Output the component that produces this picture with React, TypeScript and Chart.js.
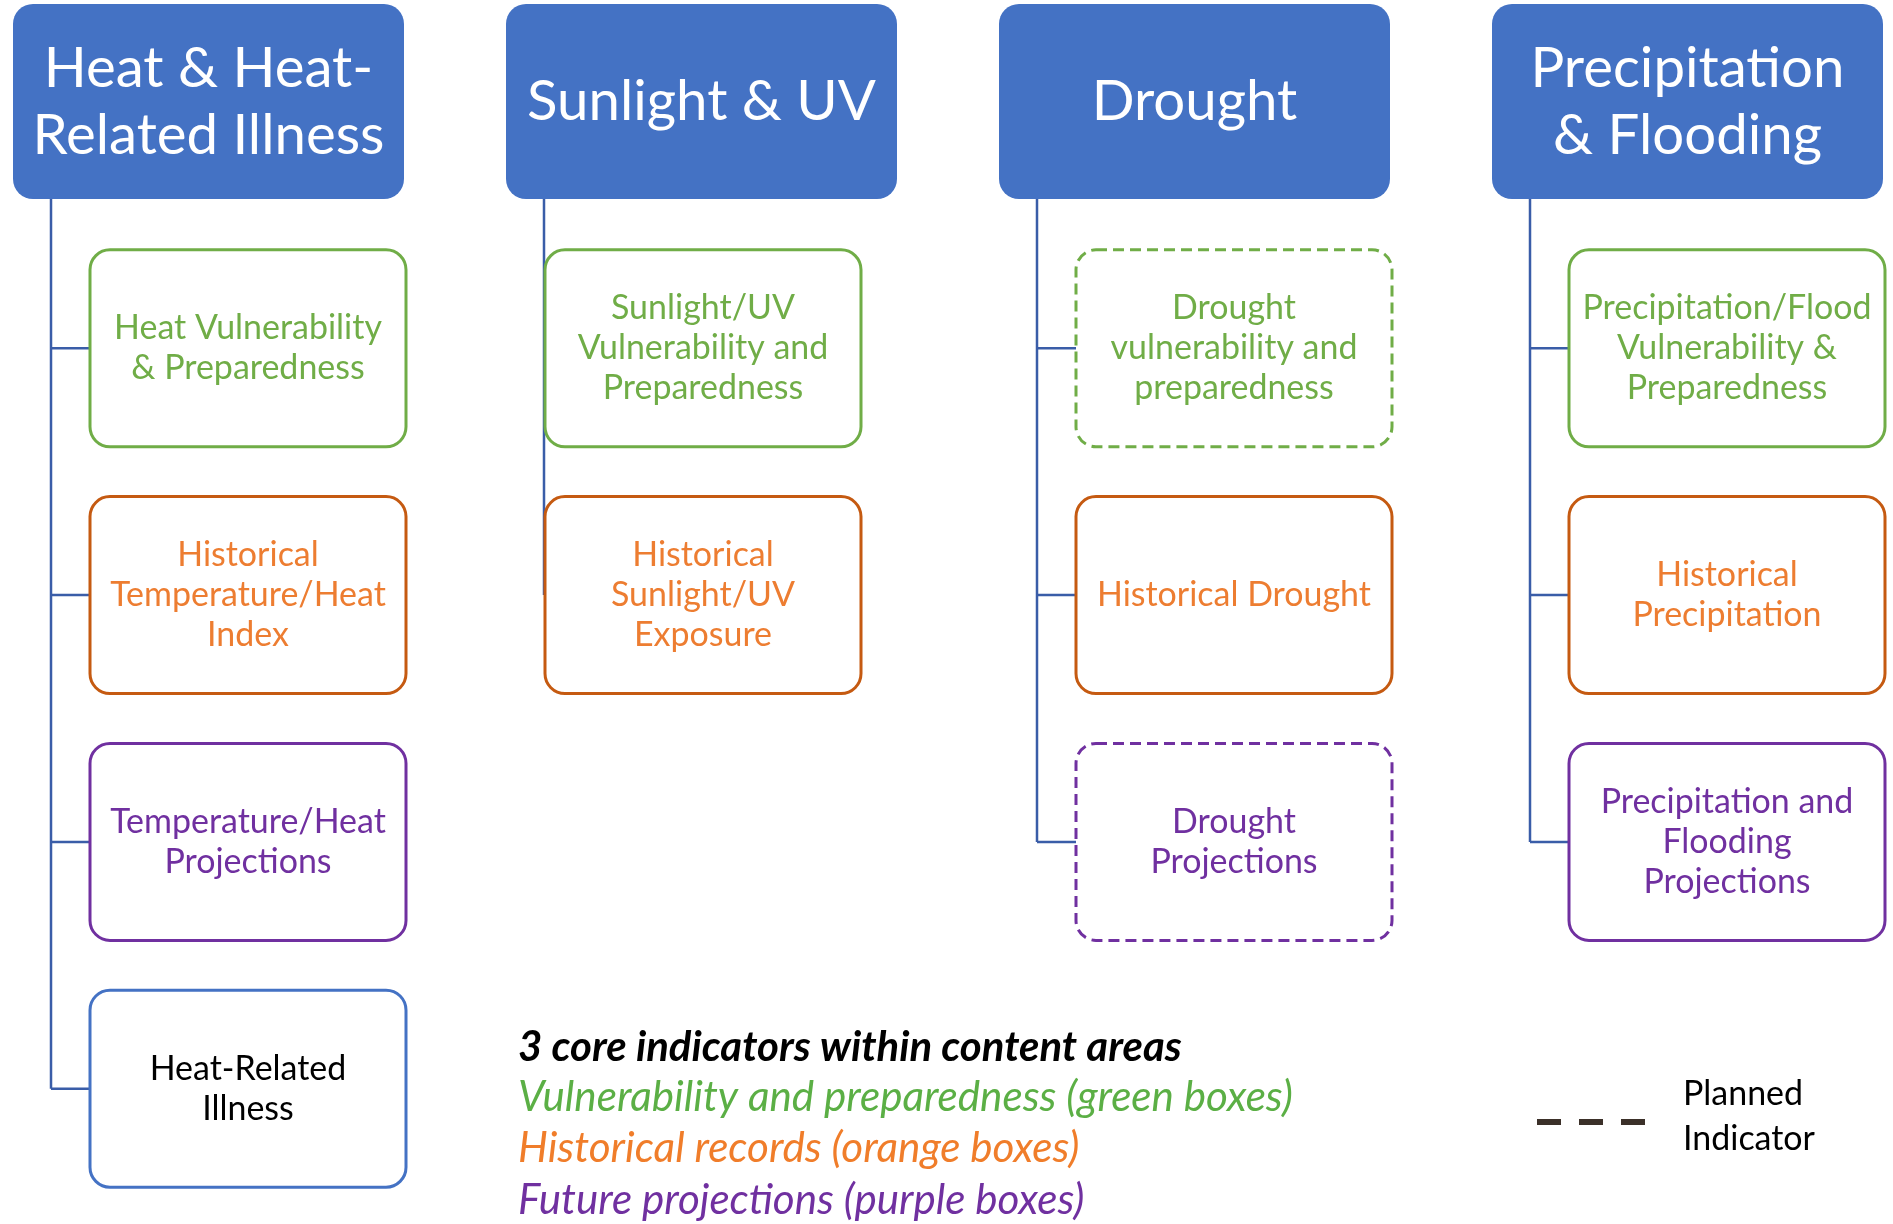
import React, { useEffect, useRef } from "react";
import { Chart, registerables } from "chart.js";

Chart.register(...registerables);

// ---------------- DATA ----------------
const categories = [
  "Heat & Heat-|Related Illness",
  "Sunlight & UV",
  "Drought",
  "Precipitation|& Flooding",
];

const heatIndicators = [
  "Heat Vulnerability|& Preparedness",
  "Historical|Temperature/Heat|Index",
  "Temperature/Heat|Projections",
  "Heat-Related|Illness",
];
const heatKinds = ["vulnerability", "historical", "projection", "outcome"];
const heatPlanned = [false, false, false, false];

const sunIndicators = [
  "Sunlight/UV|Vulnerability and|Preparedness",
  "Historical|Sunlight/UV|Exposure",
];
const sunKinds = ["vulnerability", "historical"];
const sunPlanned = [false, false];

const droughtIndicators = [
  "Drought|vulnerability and|preparedness",
  "Historical Drought",
  "Drought|Projections",
];
const droughtKinds = ["vulnerability", "historical", "projection"];
const droughtPlanned = [true, false, true];

const precipIndicators = [
  "Precipitation/Flood|Vulnerability &|Preparedness",
  "Historical|Precipitation",
  "Precipitation and|Flooding|Projections",
];
const precipKinds = ["vulnerability", "historical", "projection"];
const precipPlanned = [false, false, false];

const legendTitle = "3 core indicators within content areas";
const legendItems = [
  "Vulnerability and preparedness (green boxes)",
  "Historical records (orange boxes)",
  "Future projections (purple boxes)",
];
const legendKinds = ["vulnerability", "historical", "projection"];
const plannedLabel = "Planned|Indicator";

// ---------------- STYLE / LAYOUT ----------------
const COL_PX = 493;
const ROW_PX = 246.8;
const XMIN = -13 / COL_PX;
const XMAX = XMIN + 1893 / COL_PX;
const YMIN = -3 / ROW_PX;
const YMAX = YMIN + 1224 / ROW_PX;
const HEADER_W = 391 / COL_PX;
const HEADER_H = 195 / ROW_PX;
const HEADER_TOP = 1 / ROW_PX;
const CHILD_W = 316 / COL_PX;
const CHILD_H = 197 / ROW_PX;
const CHILD_OFFSET = [77 / COL_PX, 39 / COL_PX, 77 / COL_PX, 77 / COL_PX];
const CONNECTOR_OFFSET = 38 / COL_PX;
const HEADER_LINE = 67 / ROW_PX;
const CHILD_LINE = 40 / ROW_PX;
const ux = (p: number) => p / COL_PX + XMIN;
const uy = (p: number) => p / ROW_PX + YMIN;

const FONT = "Lato, 'Open Sans', sans-serif";
const HEADER_FILL = "#4472C4";
const CONNECTOR = "#3A5DA8";
const KIND_BORDER: Record<string, string> = {
  vulnerability: "#70AD47",
  historical: "#C55A11",
  projection: "#7030A0",
  outcome: "#4472C4",
};
const KIND_TEXT: Record<string, string> = {
  vulnerability: "#70AD47",
  historical: "#ED7D31",
  projection: "#7030A0",
  outcome: "#000000",
};
const LEGEND_TEXT: Record<string, string> = {
  vulnerability: "#5BAF45",
  historical: "#F07D2A",
  projection: "#7030A0",
};

const columns = [
  { labels: heatIndicators, kinds: heatKinds, planned: heatPlanned },
  { labels: sunIndicators, kinds: sunKinds, planned: sunPlanned },
  { labels: droughtIndicators, kinds: droughtKinds, planned: droughtPlanned },
  { labels: precipIndicators, kinds: precipKinds, planned: precipPlanned },
];

function roundRectPath(ctx: CanvasRenderingContext2D, x: number, y: number, w: number, h: number, r: number) {
  ctx.beginPath();
  ctx.moveTo(x + r, y);
  ctx.lineTo(x + w - r, y);
  ctx.arcTo(x + w, y, x + w, y + r, r);
  ctx.lineTo(x + w, y + h - r);
  ctx.arcTo(x + w, y + h, x + w - r, y + h, r);
  ctx.lineTo(x + r, y + h);
  ctx.arcTo(x, y + h, x, y + h - r, r);
  ctx.lineTo(x, y + r);
  ctx.arcTo(x, y, x + r, y, r);
  ctx.closePath();
}

function fitSize(ctx: CanvasRenderingContext2D, text: string, style: string, target: number) {
  ctx.font = `${style} 100px ${FONT}`;
  const w = ctx.measureText(text).width;
  return (100 * target) / w;
}

function drawLines(
  ctx: CanvasRenderingContext2D,
  label: string,
  cx: number,
  cy: number,
  size: number,
  spacing: number,
  color: string
) {
  ctx.font = `normal ${size}px ${FONT}`;
  const cap = ctx.measureText("H").actualBoundingBoxAscent;
  const lines = label.split("|");
  ctx.fillStyle = color;
  ctx.textAlign = "center";
  ctx.textBaseline = "alphabetic";
  const n = lines.length;
  lines.forEach((ln, i) => {
    ctx.fillText(ln, cx, cy + cap / 2 + (i - (n - 1) / 2) * spacing - 1.5);
  });
}

const diagramPlugin = {
  id: "diagram",
  afterDatasetsDraw(chart: any) {
    const ctx: CanvasRenderingContext2D = chart.ctx;
    const xs = chart.scales.x;
    const ys = chart.scales.y;
    const X = (v: number) => xs.getPixelForValue(v);
    const Y = (v: number) => ys.getPixelForValue(v);
    const dx = (w: number) => Math.abs(X(w) - X(0));
    const dy = (h: number) => Math.abs(Y(h) - Y(0));
    const headerMeta = chart.getDatasetMeta(0);
    const childMeta = chart.getDatasetMeta(1);
    const headerData = chart.data.datasets[0].data;
    const childData = chart.data.datasets[1].data;

    ctx.save();
    // connectors
    ctx.strokeStyle = CONNECTOR;
    ctx.lineWidth = 2.5;
    ctx.setLineDash([]);
    headerMeta.data.forEach((h: any, c: number) => {
      const x = X(c + CONNECTOR_OFFSET);
      const top = h.y + dy(HEADER_H) / 2;
      let bottom = top;
      childMeta.data.forEach((el: any, i: number) => {
        const d = childData[i];
        if (d.col !== c) return;
        bottom = Math.max(bottom, el.y);
        const left = el.x - dx(CHILD_W) / 2;
        ctx.beginPath();
        ctx.moveTo(x, el.y);
        ctx.lineTo(left, el.y);
        ctx.stroke();
      });
      ctx.beginPath();
      ctx.moveTo(x, top);
      ctx.lineTo(x, bottom);
      ctx.stroke();
    });

    // headers
    const headerSize = fitSize(ctx, "Related Illness", "normal", 352);
    headerMeta.data.forEach((h: any, c: number) => {
      const w = dx(HEADER_W);
      const hh = dy(HEADER_H);
      roundRectPath(ctx, h.x - w / 2, h.y - hh / 2, w, hh, 20);
      ctx.fillStyle = HEADER_FILL;
      ctx.fill();
      drawLines(ctx, headerData[c].label, h.x, h.y, headerSize, dy(HEADER_LINE), "#FFFFFF");
    });

    // indicator boxes
    const childSize = fitSize(ctx, "Heat Vulnerability", "normal", 268);
    childMeta.data.forEach((el: any, i: number) => {
      const d = childData[i];
      const w = dx(CHILD_W);
      const hh = dy(CHILD_H);
      roundRectPath(ctx, el.x - w / 2, el.y - hh / 2, w, hh, 20);
      ctx.fillStyle = "#FFFFFF";
      ctx.fill();
      ctx.lineWidth = 3;
      ctx.strokeStyle = KIND_BORDER[d.kind];
      ctx.setLineDash(d.planned ? [11, 6] : []);
      ctx.stroke();
      ctx.setLineDash([]);
      drawLines(ctx, d.label, el.x, el.y, childSize, dy(CHILD_LINE), KIND_TEXT[d.kind]);
    });

    // legend of colours
    const itemSize = fitSize(ctx, legendItems[0], "italic", 775);
    const titleSize = fitSize(ctx, legendTitle, "italic bold", 664);
    ctx.textAlign = "left";
    ctx.textBaseline = "alphabetic";
    ctx.font = `italic bold ${titleSize}px ${FONT}`;
    ctx.fillStyle = "#000000";
    const lx = X(ux(518));
    ctx.fillText(legendTitle, lx, Y(uy(1061)));
    const baselines = [1111, 1162, 1214];
    ctx.font = `italic ${itemSize}px ${FONT}`;
    legendItems.forEach((t, i) => {
      ctx.fillStyle = LEGEND_TEXT[legendKinds[i]];
      ctx.fillText(t, lx, Y(uy(baselines[i])));
    });

    // planned indicator legend
    ctx.strokeStyle = "#3B3029";
    ctx.lineWidth = 6;
    ctx.setLineDash([24, 18]);
    ctx.beginPath();
    ctx.moveTo(X(ux(1537)), Y(uy(1122)));
    ctx.lineTo(X(ux(1645)), Y(uy(1122)));
    ctx.stroke();
    ctx.setLineDash([]);
    const plannedLines = plannedLabel.split("|");
    const pSize = fitSize(ctx, plannedLines[1], "normal", 132);
    ctx.font = `normal ${pSize}px ${FONT}`;
    ctx.fillStyle = "#000000";
    ctx.textAlign = "left";
    ctx.fillText(plannedLines[0], X(ux(1683)), Y(uy(1105)));
    ctx.fillText(plannedLines[1], X(ux(1683)), Y(uy(1150)));
    ctx.restore();
  },
};

export default function App() {
  const ref = useRef<HTMLCanvasElement | null>(null);
  useEffect(() => {
    if (!ref.current) return;
    const headerPoints = categories.map((label, c) => ({
      x: c + HEADER_W / 2,
      y: HEADER_TOP + HEADER_H / 2,
      label,
    }));
    const childPoints: any[] = [];
    columns.forEach((col, c) => {
      col.labels.forEach((label, r) => {
        childPoints.push({
          x: c + CHILD_OFFSET[c] + CHILD_W / 2,
          y: r + 1 + CHILD_H / 2,
          col: c,
          row: r,
          label,
          kind: col.kinds[r],
          planned: col.planned[r],
        });
      });
    });
    const chart = new Chart(ref.current, {
      type: "scatter",
      data: {
        datasets: [
          { label: "content areas", data: headerPoints as any, pointRadius: 0, pointHoverRadius: 0 },
          { label: "indicators", data: childPoints as any, pointRadius: 0, pointHoverRadius: 0 },
        ],
      },
      options: {
        animation: false,
        responsive: false,
        devicePixelRatio: 1,
        layout: { padding: 0 },
        events: [],
        scales: {
          x: { type: "linear", display: false, min: XMIN, max: XMAX },
          y: { type: "linear", display: false, reverse: true, min: YMIN, max: YMAX },
        },
        plugins: { legend: { display: false }, tooltip: { enabled: false } },
      },
      plugins: [diagramPlugin],
    });
    const fonts = (document as any).fonts;
    if (fonts && fonts.load) {
      Promise.all([
        fonts.load(`40px Lato`),
        fonts.load(`italic 40px Lato`),
        fonts.load(`italic bold 40px Lato`),
      ])
        .then(() => chart.draw())
        .catch(() => {});
    }
    return () => chart.destroy();
  }, []);
  return (
    <div style={{ position: "absolute", left: 0, top: 0, width: 1893, height: 1224, background: "#fff" }}>
      <canvas ref={ref} width={1893} height={1224} style={{ display: "block" }} />
    </div>
  );
}
